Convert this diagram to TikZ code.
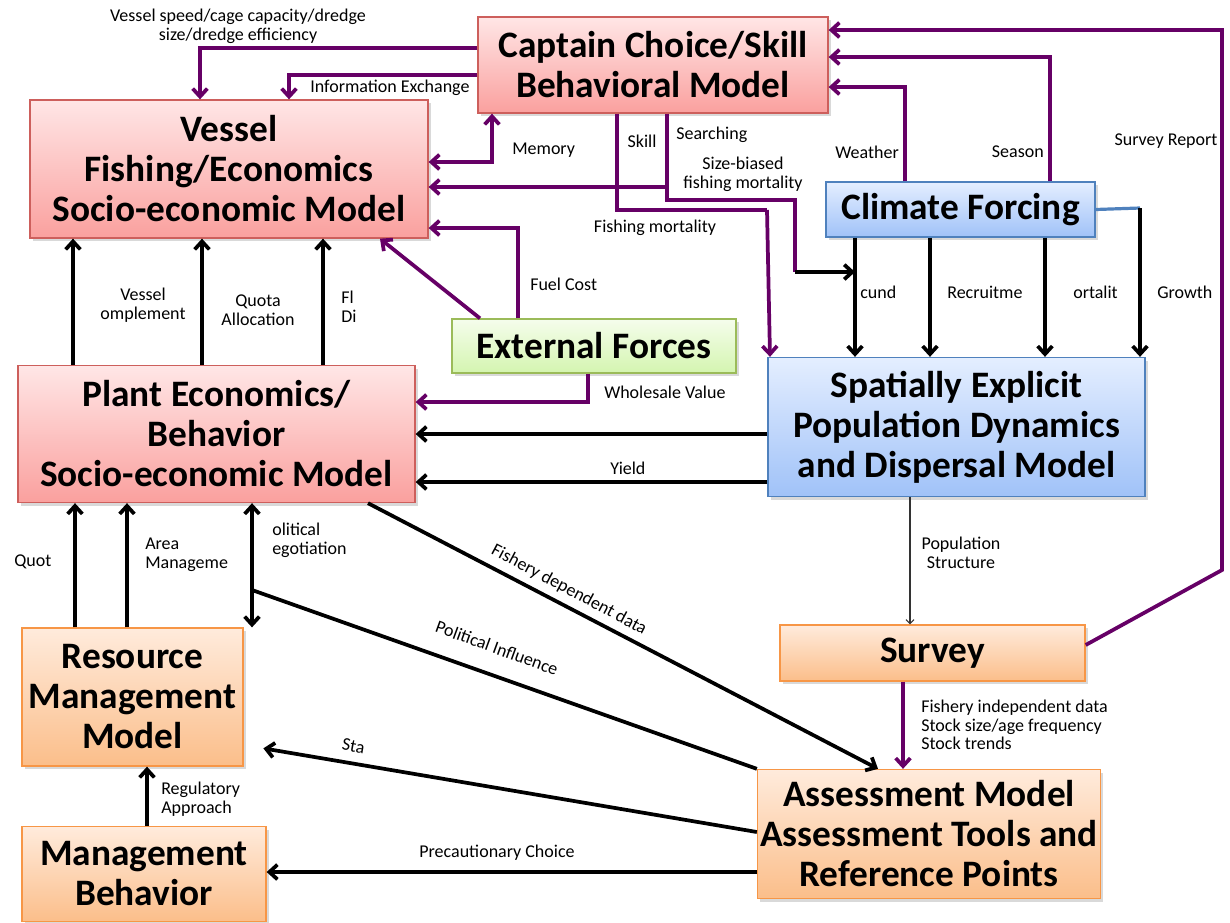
\documentclass[tikz,border=0pt]{standalone}
\usepackage{fontspec}
\setmainfont{Carlito}
\usetikzlibrary{arrows.meta,shadows}
\definecolor{pur}{RGB}{102,0,102}
\definecolor{pinkT}{RGB}{255,230,230}
\definecolor{pinkB}{RGB}{250,160,158}
\definecolor{pinkD}{RGB}{205,95,92}
\definecolor{blueT}{RGB}{228,238,255}
\definecolor{blueB}{RGB}{160,194,248}
\definecolor{blueD}{RGB}{79,129,189}
\definecolor{grnT}{RGB}{245,253,236}
\definecolor{grnB}{RGB}{212,245,176}
\definecolor{grnD}{RGB}{155,187,89}
\definecolor{orT}{RGB}{255,235,220}
\definecolor{orB}{RGB}{251,190,138}
\definecolor{orD}{RGB}{247,150,70}
\newcommand\lblfont{\fontsize{13.5}{14}\selectfont}
\tikzset{
  box/.style={draw, line width=1pt, align=center, inner sep=2pt,
    font=\fontsize{28}{30}\selectfont\bfseries,
    drop shadow={opacity=0.3, shadow xshift=2pt, shadow yshift=-2.5pt}},
  pinkbox/.style={box, draw=pinkD, top color=pinkT, bottom color=pinkB},
  bluebox/.style={box, draw=blueD, top color=blueT, bottom color=blueB},
  grnbox/.style={box, draw=grnD, top color=grnT, bottom color=grnB},
  orbox/.style={box, draw=orD, top color=orT, bottom color=orB},
  tip/.style={-{Straight Barb[length=6pt,width=11pt]}},
  dtip/.style={{Straight Barb[length=6pt,width=11pt]}-{Straight Barb[length=6pt,width=11pt]}},
  pln/.style={pur, line width=2.8pt},
  parr/.style={pln, tip},
  bln/.style={black, line width=2.8pt},
  barr/.style={bln, tip},
  lbl/.style={font=\lblfont, inner sep=0pt, align=center},
  lbll/.style={font=\lblfont, inner sep=0pt, align=left, anchor=west},
}
\begin{document}
\begin{tikzpicture}[x=0.75pt,y=-0.75pt]
\useasboundingbox (0,0) rectangle (1230,922);
% boxes
\node[pinkbox, minimum width=262.5pt, minimum height=72pt] (cap) at (653,65) {Captain Choice/Skill\\Behavioral Model};
\node[pinkbox, minimum width=298.5pt, minimum height=103.5pt] (ves) at (229,169) {Vessel\\Fishing/Economics\\Socio-economic Model};
\node[pinkbox, minimum width=297.75pt, minimum height=102.75pt] (plant) at (216.5,434) {Plant Economics/\\Behavior\\Socio-economic Model};
\node[grnbox, minimum width=213pt, minimum height=40.5pt] (ext) at (594,346) {External Forces};
\node[bluebox, minimum width=201.75pt, minimum height=41.25pt] (clim) at (960.5,209.5) {Climate Forcing};
\node[bluebox, minimum width=282.75pt, minimum height=104.25pt] (spat) at (956.5,427) {Spatially Explicit\\Population Dynamics\\and Dispersal Model};
\node[orbox, minimum width=228.75pt, minimum height=42pt] (surv) at (932.5,653) {Survey};
\node[orbox, minimum width=165.75pt, minimum height=103.5pt] (res) at (132.5,697) {Resource\\Management\\Model};
\node[orbox, minimum width=183pt, minimum height=71.25pt] (mb) at (144,874) {Management\\Behavior};
\node[orbox, minimum width=249pt, minimum height=96.75pt] (asm) at (929,834) {Assessment Model\\Assessment Tools and\\Reference Points};

% purple connectors
\draw[parr] (cap.west |- 0,48) -- (200,48) -- (200,0 |- ves.north);
\draw[parr] (cap.west |- 0,75) -- (289,75) -- (289,0 |- ves.north);
\draw[pln, dtip] (ves.east |- 0,162) -- (492,162) -- (492,0 |- cap.south);
\draw[pln] (617,0 |- cap.south) -- (617,210) -- (767,210);
\draw[parr] (767,210) -- (770,0 |- spat.north);
\draw[pln] (667,0 |- cap.south) -- (667,200) -- (795,200) -- (795,272);
\coordinate (srch) at (667,187);
\draw[parr] (srch) -- (ves.east |- 0,187);
\coordinate (sbc) at (795,272);
\draw[barr] (sbc) -- (855,272);
\draw[parr] (518,0 |- ext.north) -- (518,228) -- (ves.east |- 0,228);
\draw[parr] (480,0 |- ext.north) -- (380,0 |- ves.south);
\draw[parr] (588,0 |- ext.south) -- (588,402) -- (plant.east |- 0,402);
\draw[parr] (905,0 |- clim.north) -- (905,87) -- (cap.east |- 0,87);
\draw[parr] (1050,0 |- clim.north) -- (1050,57) -- (cap.east |- 0,57);
\draw[parr] (surv.east |- 0,645) -- (1222,570) -- (1222,30) -- (cap.east |- 0,30);
\draw[parr] (903,0 |- surv.south) -- (903,0 |- asm.north);

% black connectors
\foreach \xx in {73,202,323} \draw[barr] (\xx,0 |- plant.north) -- (\xx,0 |- ves.south);
\foreach \xx in {75,127} \draw[barr] (\xx,0 |- res.north) -- (\xx,0 |- plant.south);
\draw[bln, dtip] (252,0 |- res.north) -- (252,0 |- plant.south);
\draw[barr] (spat.west |- 0,434) -- (plant.east |- 0,434);
\draw[barr] (spat.west |- 0,482) -- (plant.east |- 0,482);
\foreach \xx in {855,930,1045} \draw[barr] (\xx,0 |- clim.south) -- (\xx,0 |- spat.north);
\coordinate (gc) at (1140,208);
\draw[blueD, line width=2.4pt] (clim.east) -- (gc);
\draw[barr] (gc) -- (1140,0 |- spat.north);
\draw[black!80, line width=0.8pt, -{Straight Barb[length=3pt,width=6pt]}] (910,0 |- spat.south) -- (910,0 |- surv.north);
\draw[barr] (368,0 |- plant.south) -- (878,0 |- asm.north);
\coordinate (pn) at (252,590);
\draw[bln] (pn) -- (asm.north west);
\draw[barr, shorten >=15pt] (asm.west |- 0,832) -- (res.east |- 0,745);
\draw[barr] (asm.west |- 0,872) -- (mb.east |- 0,872);
\draw[barr] (147,0 |- mb.north) -- (147,0 |- res.south);

% labels
\node[lbl] (l1) at (238,26) {Vessel speed/cage capacity/dredge\\size/dredge efficiency};
\node[lbll] (l2) at (310,88) {Information Exchange};
\node[lbll] (l3) at (512,150) {Memory};
\node[lbl] (l4) at (642,141) {Skill};
\node[lbll] (l5) at (676,135) {Searching};
\node[lbl] (l6) at (743,174) {Size-biased\\fishing mortality};
\node[lbl] (l7) at (655,228) {Fishing mortality};
\node[lbll] (l8) at (530,284) {Fuel Cost};
\node[lbl, anchor=east] (l9) at (899,152) {Weather};
\node[lbl, anchor=east] (l10) at (1044,152) {Season};
\node[lbl] (l11) at (1166,141) {Survey Report};
\node[lbl] (l12) at (143,305) {Vessel\\omplement};
\node[lbl] (l13) at (258,310) {Quota\\Allocation};
\node[lbll] (l14) at (341,307) {Fl\\Di};
\node[lbll] (l15) at (604,392) {Wholesale Value};
\node[lbll] (l16) at (610,468) {Yield};
\node[lbll] (l17) at (860,292) {cund};
\node[lbll] (l18) at (947,292) {Recruitme};
\node[lbll] (l19) at (1073,292) {ortalit};
\node[lbll] (l20) at (1157,292) {Growth};
\node[lbl] (l21) at (961,553) {Population\\Structure};
\node[lbll] (l22) at (921,725) {Fishery independent data\\Stock size/age frequency\\Stock trends};
\node[lbll] (l23) at (14,562) {Quot};
\node[lbll] (l24) at (145,555) {Area\\Manageme};
\node[lbll] (l25) at (272,540) {olitical\\egotiation};
\node[lbl, rotate=-28] (l26) at (569,590) {Fishery dependent data};
\node[lbl, rotate=-20] (l27) at (497,648) {Political Influence};
\node[lbll, rotate=-10] (l28) at (342,744) {Sta};
\node[lbl] (l29) at (497,853) {Precautionary Choice};
\node[lbll] (l30) at (161,799) {Regulatory\\Approach};
\end{tikzpicture}
\end{document}
